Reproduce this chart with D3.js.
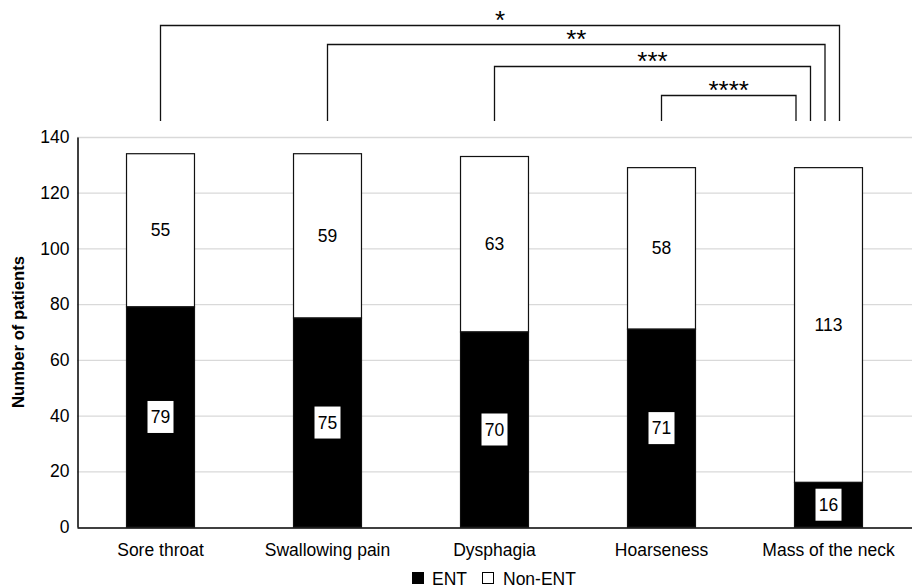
<!DOCTYPE html>
<html>
<head>
<meta charset="utf-8">
<script src="https://cdn.jsdelivr.net/npm/d3@7"></script>
<style>
  body { margin: 0; background: #fff; }
  text { font-family: "Liberation Sans", Arial, sans-serif; fill: #000; }
</style>
</head>
<body>
<div id="chart"></div>
<script>
// data
var categories = ["Sore throat", "Swallowing pain", "Dysphagia", "Hoarseness", "Mass of the neck"];
var ent = [79, 75, 70, 71, 16];
var nonEnt = [55, 59, 63, 58, 113];
var yTicks = [0, 20, 40, 60, 80, 100, 120, 140];
// significance brackets: from category, to category, label
var bracketFrom = ["Sore throat", "Swallowing pain", "Dysphagia", "Hoarseness"];
var bracketTo = ["Mass of the neck", "Mass of the neck", "Mass of the neck", "Mass of the neck"];
var bracketLabels = ["*", "**", "***", "****"];

var w = 912, h = 588;
var margin = {top: 137, right: 0, bottom: 61, left: 77};
var fontSize = "17.5px";

var svg = d3.select("#chart").append("svg")
    .attr("width", w)
    .attr("height", h);

var x = d3.scaleBand()
    .domain(categories)
    .range([margin.left, w - margin.right])
    .paddingInner(0.593)
    .paddingOuter(0.2965);

var y = d3.scaleLinear()
    .domain([0, 140])
    .range([h - margin.bottom, margin.top]);

//Gridlines
svg.append("g")
    .selectAll("line")
    .data(yTicks.slice(1))
    .join("line")
    .attr("x1", margin.left)
    .attr("x2", w - margin.right)
    .attr("y1", d => y(d) + 0.5)
    .attr("y2", d => y(d) + 0.5)
    .attr("stroke", "#d9d9d9")
    .attr("stroke-width", 1.3);

//Y axis
var yAxis = d3.axisLeft(y).tickValues(yTicks).tickSize(0).tickPadding(8);
var gy = svg.append("g")
    .attr("transform", "translate(" + (margin.left + 0.5) + ",0)")
    .call(yAxis);
gy.select(".domain").attr("stroke", "#000").attr("stroke-width", 1.5);
gy.selectAll("text")
    .style("font-family", "Liberation Sans, Arial, sans-serif")
    .style("font-size", fontSize)
    .attr("fill", "#000");

//Bars
var groups = svg.append("g")
    .selectAll("g")
    .data(categories)
    .join("g");

groups.append("rect")
    .attr("x", d => x(d))
    .attr("width", x.bandwidth())
    .attr("y", (d, i) => y(ent[i] + nonEnt[i]))
    .attr("height", (d, i) => y(ent[i]) - y(ent[i] + nonEnt[i]))
    .attr("fill", "#fff")
    .attr("stroke", "#111")
    .attr("stroke-width", 1.2);

groups.append("rect")
    .attr("x", d => x(d))
    .attr("width", x.bandwidth())
    .attr("y", (d, i) => y(ent[i]))
    .attr("height", (d, i) => y(0) - y(ent[i]))
    .attr("fill", "#000")
    .attr("stroke", "#111")
    .attr("stroke-width", 1.2);

//ENT value labels with white boxes
groups.append("rect")
    .attr("x", d => x(d) + x.bandwidth() / 2 - 13)
    .attr("y", (d, i) => y(ent[i] / 2) - 16)
    .attr("width", 26)
    .attr("height", 32)
    .attr("fill", "#fff");

groups.append("text")
    .attr("x", d => x(d) + x.bandwidth() / 2)
    .attr("y", (d, i) => y(ent[i] / 2) + 6)
    .attr("text-anchor", "middle")
    .style("font-size", fontSize)
    .text((d, i) => ent[i]);

groups.append("text")
    .attr("x", d => x(d) + x.bandwidth() / 2)
    .attr("y", (d, i) => y(ent[i] + nonEnt[i] / 2) + 6)
    .attr("text-anchor", "middle")
    .style("font-size", fontSize)
    .text((d, i) => nonEnt[i]);

//X axis
var xAxis = d3.axisBottom(x).tickSize(0).tickPadding(16);
var gx = svg.append("g")
    .attr("transform", "translate(0," + (y(0) + 0.5) + ")")
    .call(xAxis);
gx.select(".domain").attr("stroke", "#000").attr("stroke-width", 1.5);
gx.selectAll("text")
    .style("font-family", "Liberation Sans, Arial, sans-serif")
    .style("font-size", fontSize)
    .attr("fill", "#000");

//Y axis title
svg.append("text")
    .attr("transform", "translate(24," + ((y(0) + y(140)) / 2) + ") rotate(-90)")
    .attr("text-anchor", "middle")
    .style("font-size", "16.7px")
    .style("font-weight", "bold")
    .text("Number of patients");

//Significance brackets
bracketLabels.forEach(function(lab, k) {
    var x1 = x(bracketFrom[k]) + x.bandwidth() / 2;
    var x2 = x(bracketTo[k]) + x.bandwidth() / 2 + 11 - k * 14.5;
    var yTop = [25.5, 44.5, 66.5, 95.5][k];
    var yBot = 121;
    svg.append("path")
        .attr("d", "M" + x1 + "," + yBot + "V" + yTop + "H" + x2 + "V" + yBot)
        .attr("fill", "none")
        .attr("stroke", "#111")
        .attr("stroke-width", 1.3);
    svg.append("text")
        .attr("x", (x1 + x2) / 2)
        .attr("y", yTop + 3)
        .attr("text-anchor", "middle")
        .style("font-size", "26px")
        .text(lab);
});

//Legend
var legend = svg.append("g").attr("transform", "translate(0," + 585 + ")");
legend.append("rect")
    .attr("x", 412).attr("y", -13).attr("width", 12).attr("height", 12)
    .attr("fill", "#000");
legend.append("text")
    .attr("x", 432).attr("y", 0)
    .style("font-size", fontSize)
    .text("ENT");
legend.append("rect")
    .attr("x", 482.5).attr("y", -12.5).attr("width", 11).attr("height", 11)
    .attr("fill", "#fff").attr("stroke", "#000").attr("stroke-width", 1);
legend.append("text")
    .attr("x", 503).attr("y", 0)
    .style("font-size", fontSize)
    .text("Non-ENT");
</script>
</body>
</html>
